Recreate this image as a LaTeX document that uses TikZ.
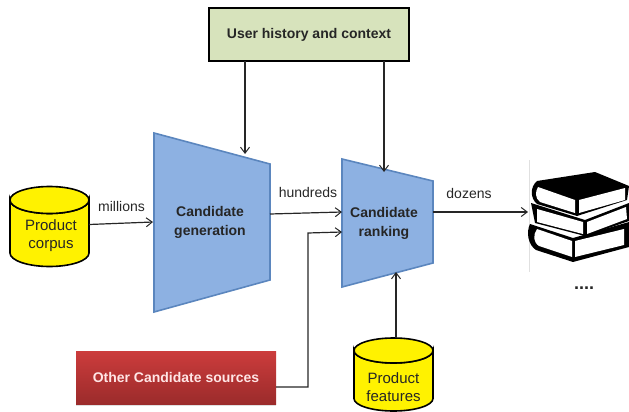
\documentclass[tikz,border=0pt]{standalone}
\usepackage{fontspec}
\setmainfont{Liberation Sans}
\usetikzlibrary{arrows.meta,shadows}
\definecolor{trapfill}{HTML}{8DB1E2}
\definecolor{trapline}{HTML}{5B86BE}
\definecolor{greenfill}{HTML}{D7E3BC}
\definecolor{redtop}{HTML}{CC3C3C}
\definecolor{redbot}{HTML}{9B2B2B}
\definecolor{inktext}{HTML}{262626}
\tikzset{
  arrowline/.style={draw=inktext,line width=1.2pt,-{Straight Barb[length=6pt,width=9pt,line width=1pt]}},
  trapshape/.style={fill=trapfill,draw=trapline,line width=1.6pt},
  storeshape/.style={draw=black,line width=1.6pt,fill=yellow},
  storetext/.style={align=center,font=\fontsize{15}{18}\selectfont,text=inktext},
  boldtext/.style={align=center,font=\bfseries\fontsize{14}{19}\selectfont,text=inktext},
  edgetext/.style={font=\fontsize{14}{17}\selectfont,text=inktext},
  bookink/.style={fill=black},
  bookpage/.style={fill=white},
}
\begin{document}
\begin{tikzpicture}[x=1pt,y=-1pt]
\useasboundingbox (0,0) rectangle (629,412);
% boxes
\node[draw=black,line width=1.6pt,fill=greenfill,minimum width=200pt,minimum height=53pt,inner sep=0pt,boldtext] (user) at (309,34.5) {User history and context};
\node[minimum width=200pt,minimum height=53pt,inner sep=0pt,top color=redtop,bottom color=redbot,
  drop shadow={shadow xshift=0pt,shadow yshift=-1.5pt,opacity=.25},
  align=center,font=\bfseries\fontsize{14}{17}\selectfont,text=white!90!red] (other) at (176,377.5) {Other Candidate sources};
% trapezoids
\draw[trapshape] (154,133) -- (270,164) -- (270,280) -- (154,312) -- cycle;
\draw[trapshape] (342,159) -- (433,181) -- (433,263) -- (342,287) -- cycle;
\node[boldtext] (gen) at (210,222) {Candidate\\generation};
\node[boldtext] (rank) at (384,223) {Candidate\\ranking};
% cylinders
\draw[storeshape] (10,200) -- (10,253) arc[start angle=180,end angle=0,x radius=39.5,y radius=13.5] -- (89,200) arc[start angle=0,end angle=180,x radius=39.5,y radius=13.5] -- cycle;
\draw[storeshape] (49.5,200) ellipse [x radius=39.5,y radius=13.5];
\node[storetext] (corpus) at (51,236) {Product\\corpus};
\draw[storeshape] (354,350.5) -- (354,398.5) arc[start angle=180,end angle=0,x radius=39.5,y radius=12.5] -- (433,350.5) arc[start angle=0,end angle=180,x radius=39.5,y radius=12.5] -- cycle;
\draw[storeshape] (393.5,350.5) ellipse [x radius=39.5,y radius=12.5];
\node[storetext] (features) at (393.5,387) {Product\\features};
% free connector ends
\coordinate (genTop) at (245,154);
\coordinate (rankTop) at (384,172);
\coordinate (genLeft) at (153,222);
\coordinate (corpusRight) at (89,224.5);
\coordinate (genRight) at (270,214);
\coordinate (rankLeft) at (342,212);
\coordinate (rankLeftLow) at (342,232);
\coordinate (bend) at (308,233);
\coordinate (bendLow) at (308,387);
\coordinate (otherRight) at (276,387);
\coordinate (rankRight) at (433,212);
\coordinate (booksLeft) at (528,212);
\coordinate (featTop) at (396,338);
\coordinate (rankBottom) at (396,272);
\coordinate (userA) at (245,61);
\coordinate (userB) at (384,61);
% connectors
\draw[arrowline] (userA) -- (genTop);
\draw[arrowline] (userB) -- (rankTop);
\draw[arrowline] (corpusRight) -- (genLeft);
\draw[arrowline] (genRight) -- (rankLeft);
\draw[arrowline] (otherRight) -- (bendLow) -- (bend) -- (rankLeftLow);
\draw[arrowline] (rankRight) -- (booksLeft);
\draw[arrowline] (featTop) -- (rankBottom);
% labels
\node[edgetext] (millions) at (121.5,206.5) {millions};
\node[edgetext] (hundreds) at (308,192.5) {hundreds};
\node[edgetext] (dozens) at (469,193) {dozens};
\node[font=\bfseries\fontsize{18}{20}\selectfont,text=inktext] (dots) at (584,288) {....};
% books
\draw[black!12,line width=.8pt] (529.5,160) -- (529.5,272);
% bottom book
\fill[bookink] (530,224) -- (573,238) -- (629,222) -- (629,247) -- (573,262) -- (536,250) .. controls (528,245) and (526,232) .. (530,224) -- cycle;
\fill[bookpage] (537,229) -- (572,241) -- (572,257) -- (539,246) .. controls (533,242) and (533,235) .. (537,229) -- cycle;
\fill[bookpage] (575,241) -- (624,229) -- (624,245) -- (575,257) -- cycle;
% middle book
\fill[bookink] (531,203) -- (585,220) -- (629,203) -- (629,221) -- (585,236) -- (535,223) -- cycle;
\fill[bookpage] (537,209) -- (583,222) -- (583,234) -- (537,222) -- cycle;
\fill[bookpage] (587,222) -- (626,207) -- (627,219) -- (587,234) -- cycle;
% top book
\fill[bookink] (537,181) -- (595,172) -- (629,186) -- (627,200) -- (577,216) -- (537,204) .. controls (530,198) and (530,187) .. (537,181) -- cycle;
\fill[bookpage] (538,187) -- (575,200) -- (575,213) -- (540,202) .. controls (535,198) and (535,192) .. (538,187) -- cycle;
\fill[bookpage] (579,200) -- (625,188) -- (625,200) -- (579,213) -- cycle;
\end{tikzpicture}
\end{document}
